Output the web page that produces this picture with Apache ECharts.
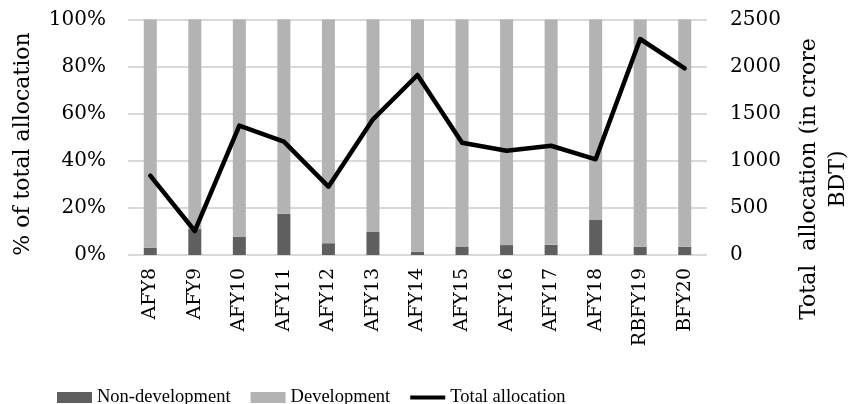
<!DOCTYPE html>
<html>
<head>
<meta charset="utf-8">
<script src="https://cdn.jsdelivr.net/npm/echarts@6/dist/echarts.min.js"></script>
<style>
  html, body { margin: 0; padding: 0; background: #fff; }
  #chart { width: 850px; height: 404px; }
</style>
</head>
<body>
<div id="chart"></div>
<script>
// Budget years shown along the x axis
const years = ['AFY8', 'AFY9', 'AFY10', 'AFY11', 'AFY12', 'AFY13', 'AFY14',
               'AFY15', 'AFY16', 'AFY17', 'AFY18', 'RBFY19', 'BFY20'];

// Share of the total allocation that is non-development (%)
const nonDevelopmentPct = [3.1, 11, 7.8, 17.5, 5, 9.8, 1.4, 3.4, 4.2, 4.3, 14.9, 3.5, 3.5];

// Remaining share is development spending (%)
const developmentPct = [96.9, 89, 92.2, 82.5, 95, 90.2, 98.6, 96.6, 95.8, 95.7, 85.1, 96.5, 96.5];

// Total allocation, crore BDT
const totalAllocation = [842, 255, 1373, 1203, 725, 1440, 1911, 1192, 1107, 1160, 1016, 2293, 1982];

// Axis tick values
const pctTicks = [0, 20, 40, 60, 80, 100];
const totalTicks = [0, 500, 1000, 1500, 2000, 2500];

const serif = 'DejaVu Serif';
const legendFont = 'Liberation Serif';

// Thick horizontal stroke used as the legend key of the line series
const lineKey = 'path://M0,0L0.001,0M0,3.5H35V7.5H0ZM35,11L34.999,11';

const chart = echarts.init(document.getElementById('chart'), null, { renderer: 'canvas' });

chart.setOption({
  animation: false,
  backgroundColor: '#ffffff',
  grid: { left: 128, right: 143, top: 19.5, bottom: 149, containLabel: false },
  legend: {
    left: 52,
    top: 383,
    itemWidth: 35,
    itemHeight: 11,
    itemGap: 20,
    textStyle: { fontFamily: legendFont, fontSize: 18.5, color: '#000' },
    data: [
      { name: 'Non-development', icon: 'rect' },
      { name: 'Development', icon: 'rect' },
      { name: 'Total allocation', icon: lineKey }
    ]
  },
  xAxis: {
    type: 'category',
    data: years,
    boundaryGap: true,
    axisLine: { show: false },
    axisTick: { show: false },
    axisLabel: {
      interval: 0,
      rotate: 90,
      margin: 13,
      fontFamily: serif,
      fontSize: 19,
      color: '#000'
    }
  },
  yAxis: [
    {
      type: 'value',
      min: pctTicks[0],
      max: pctTicks[pctTicks.length - 1],
      interval: 20,
      axisLine: { show: false },
      axisTick: { show: false },
      splitLine: { lineStyle: { color: '#d9d9d9', width: 2 } },
      axisLabel: {
        formatter: '{value}%',
        margin: 22,
        fontFamily: serif,
        fontSize: 20,
        color: '#000'
      }
    },
    {
      type: 'value',
      min: totalTicks[0],
      max: totalTicks[totalTicks.length - 1],
      interval: 500,
      position: 'right',
      axisLine: { show: false },
      axisTick: { show: false },
      splitLine: { show: false },
      axisLabel: {
        formatter: (v) => String(v),
        margin: 23,
        fontFamily: serif,
        fontSize: 20,
        color: '#000'
      }
    }
  ],
  series: [
    {
      name: 'Non-development',
      type: 'bar',
      stack: 'share',
      yAxisIndex: 0,
      barWidth: 13,
      itemStyle: { color: '#5f5f5f' },
      data: nonDevelopmentPct
    },
    {
      name: 'Development',
      type: 'bar',
      stack: 'share',
      yAxisIndex: 0,
      barWidth: 13,
      itemStyle: { color: '#b3b3b3' },
      data: developmentPct
    },
    {
      name: 'Total allocation',
      type: 'line',
      yAxisIndex: 1,
      symbol: 'none',
      z: 5,
      lineStyle: { color: '#000', width: 4.5, join: 'round', cap: 'round' },
      itemStyle: { color: '#000' },
      data: totalAllocation
    }
  ],
  graphic: [
    {
      type: 'text',
      x: 23,
      y: 144,
      rotation: Math.PI / 2,
      style: {
        text: '% of total allocation',
        fontFamily: serif,
        fontSize: 22,
        fill: '#000',
        textAlign: 'center',
        textVerticalAlign: 'middle'
      }
    },
    {
      type: 'text',
      x: 809,
      y: 179,
      rotation: Math.PI / 2,
      style: {
        text: 'Total  allocation (in crore',
        fontFamily: serif,
        fontSize: 22,
        fill: '#000',
        textAlign: 'center',
        textVerticalAlign: 'middle'
      }
    },
    {
      type: 'text',
      x: 838,
      y: 179,
      rotation: Math.PI / 2,
      style: {
        text: 'BDT)',
        fontFamily: serif,
        fontSize: 22,
        fill: '#000',
        textAlign: 'center',
        textVerticalAlign: 'middle'
      }
    }
  ]
});
</script>
</body>
</html>
